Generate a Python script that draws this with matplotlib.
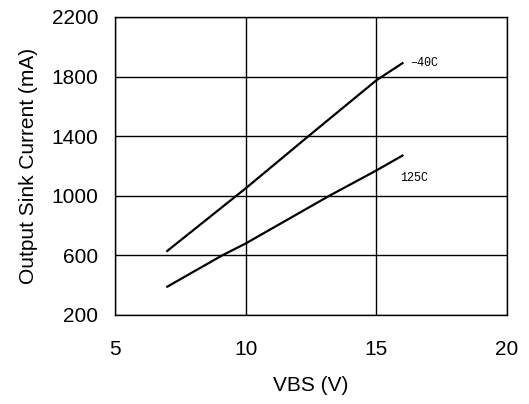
import matplotlib
matplotlib.use("Agg")
import matplotlib.pyplot as plt

vbs_m40 = [7, 10, 12.4, 15, 16]
cur_m40 = [630, 1050, 1400, 1775, 1890]
vbs_125 = [7, 9.1, 10, 13.2, 15, 16]
cur_125 = [390, 600, 680, 1000, 1170, 1270]
xticks = [5, 10, 15, 20]
yticks = [200, 600, 1000, 1400, 1800, 2200]

plt.rcParams['font.family'] = ['Liberation Sans', 'DejaVu Sans']
fig = plt.figure(figsize=(5.29, 4.04), dpi=100)
ax = fig.add_axes([115/529, 1-315/404, (507-115)/529, (315-17)/404])
ax.plot(vbs_m40, cur_m40, color='black', lw=1.6)
ax.plot(vbs_125, cur_125, color='black', lw=1.6)
ax.set_xlim(5, 20)
ax.set_ylim(200, 2200)
ax.set_xticks(xticks)
ax.set_yticks(yticks)
ax.grid(True, color='black', lw=1.0)
ax.tick_params(length=0, labelsize=15)
ax.tick_params(axis='x', pad=18)
ax.tick_params(axis='y', pad=12)
for s in ax.spines.values():
    s.set_linewidth(1.0)
ax.text(16.3, 1890, '\u201340C', family='Liberation Mono', fontsize=8.5, va='center', ha='left')
ax.text(15.9, 1120, '125C', family='Liberation Mono', fontsize=8.5, va='center', ha='left')
ax.set_xlabel('VBS (V)', fontsize=15, labelpad=12)
ax.set_ylabel('Output Sink Current (mA)', fontsize=15, labelpad=10)
fig.savefig('out.png', dpi=100)
